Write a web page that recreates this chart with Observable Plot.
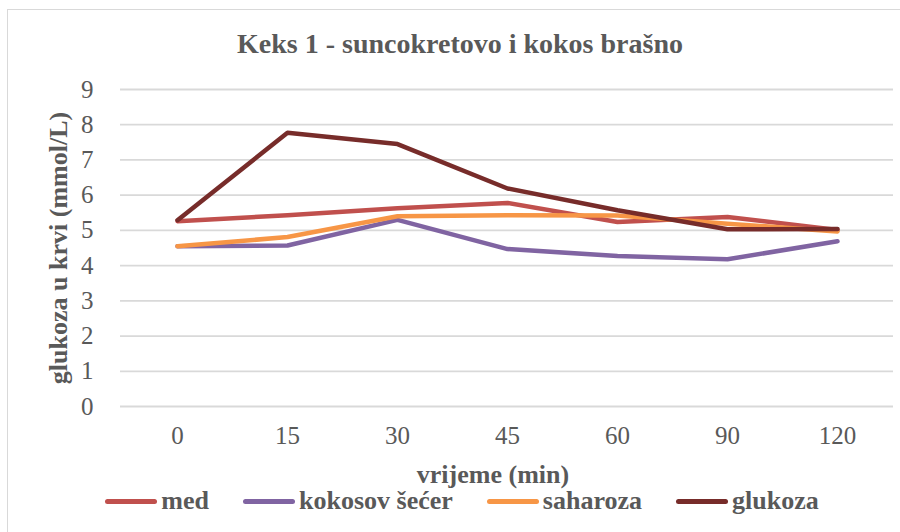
<!DOCTYPE html>
<html>
<head>
<meta charset="utf-8">
<script src="https://cdn.jsdelivr.net/npm/d3@7"></script>
<script src="https://cdn.jsdelivr.net/npm/@observablehq/plot@0.6"></script>
<style>
  html, body { margin: 0; padding: 0; background: #fff; }
  body { width: 900px; height: 532px; position: relative; overflow: hidden; font-family: 'Liberation Serif', 'Times New Roman', Times, serif; }
  .t { font-family: 'Liberation Serif', 'Times New Roman', Times, serif; color: #595959; }
  #frame { position: absolute; left: 7px; top: 9px; width: 1000px; height: 1000px; border: 1.5px solid #d9d9d9; box-sizing: border-box; }
  #title { position: absolute; left: 0; width: 920px; top: 28px; text-align: center; font-weight: bold; font-size: 28px; line-height: 32px; }
  #ytitle { position: absolute; left: 59px; top: 248px; transform: translate(-50%, -50%) rotate(-90deg); white-space: nowrap; font-weight: bold; font-size: 26px; line-height: 28px; }
  #xtitle { position: absolute; left: 0; width: 986px; top: 460px; text-align: center; font-weight: bold; font-size: 26px; line-height: 30px; }
  #chart { position: absolute; left: 0; top: 70px; }
  #legend { position: absolute; left: 0; width: 924px; top: 486px; display: flex; justify-content: center; gap: 34px; font-weight: bold; font-size: 26px; line-height: 30px; }
  .item { display: flex; align-items: center; }
  .sw { width: 52px; height: 5px; border-radius: 3px; margin-right: 4px; }
</style>
</head>
<body>
<div id="frame"></div>
<div id="title" class="t">Keks 1 - suncokretovo i kokos brašno</div>
<div id="chart"></div>
<div id="ytitle" class="t">glukoza u krvi (mmol/L)</div>
<div id="xtitle" class="t">vrijeme (min)</div>
<div id="legend" class="t"></div>
<script>
const times = ["0", "15", "30", "45", "60", "90", "120"];
const seriesNames = ["med", "kokosov šećer", "saharoza", "glukoza"];
const seriesColors = ["#C0504D", "#8064A2", "#F79646", "#772C2A"];
const med = [5.26, 5.43, 5.63, 5.78, 5.24, 5.38, 5.01];
const kokosovSecer = [4.55, 4.57, 5.30, 4.47, 4.27, 4.18, 4.69];
const saharoza = [4.55, 4.81, 5.40, 5.43, 5.42, 5.19, 4.97];
const glukoza = [5.29, 7.77, 7.45, 6.19, 5.57, 5.03, 5.04];
const yTicks = [0, 1, 2, 3, 4, 5, 6, 7, 8, 9];

const seriesValues = [med, kokosovSecer, saharoza, glukoza];
const data = [];
seriesNames.forEach((name, i) => {
  times.forEach((t, j) => data.push({series: name, time: t, value: seriesValues[i][j]}));
});

const chart = Plot.plot({
  width: 900,
  height: 400,
  marginTop: 19,
  marginBottom: 64,
  marginLeft: 120,
  marginRight: 7,
  style: {fontFamily: "Liberation Serif", fontSize: "25px", color: "#595959", background: "transparent"},
  x: {type: "point", domain: times, padding: 0.5},
  y: {domain: [0, 9]},
  marks: [
    Plot.gridY(yTicks, {stroke: "#d9d9d9", strokeOpacity: 1, strokeWidth: 1.8}),
    Plot.axisY(yTicks, {tickSize: 0, tickPadding: 27, label: null, fontSize: 25, fill: "#595959"}),
    Plot.axisX({tickSize: 0, tickPadding: 20, label: null, fontSize: 25, fill: "#595959"}),
    ...seriesNames.map((name, i) =>
      Plot.line(data.filter(d => d.series === name), {
        x: "time", y: "value", stroke: seriesColors[i], strokeWidth: 4.5,
        strokeLinecap: "round", strokeLinejoin: "round"
      })
    )
  ]
});
document.getElementById("chart").appendChild(chart);

const legend = document.getElementById("legend");
seriesNames.forEach((name, i) => {
  const item = document.createElement("div");
  item.className = "item";
  const sw = document.createElement("span");
  sw.className = "sw";
  sw.style.background = seriesColors[i];
  const label = document.createElement("span");
  label.textContent = name;
  item.appendChild(sw);
  item.appendChild(label);
  legend.appendChild(item);
});
</script>
</body>
</html>
